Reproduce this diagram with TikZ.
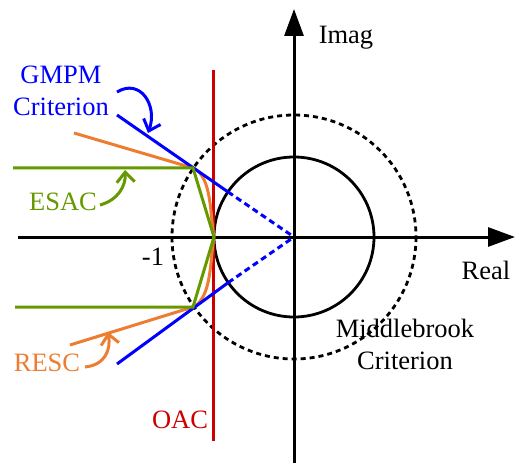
\documentclass[tikz,border=0pt]{standalone}
\usepackage{fontspec}
\setmainfont{Liberation Serif}
\usetikzlibrary{arrows.meta,calc}
\definecolor{cblue}{RGB}{0,0,255}
\definecolor{cgreen}{RGB}{102,153,0}
\definecolor{corange}{RGB}{237,125,49}
\definecolor{cred}{RGB}{204,0,0}
\tikzset{
  axis/.style={line width=3pt,-{Triangle[width=19pt,length=27pt]}},
  lbl/.style={inner sep=0pt,font=\fontsize{26.5}{32}\selectfont,align=center},
  crit/.style={line width=3pt},
  callout/.style={line width=3pt,-{Straight Barb[length=10pt,width=18pt]}},
  dashblue/.style={line width=3pt,cblue,dash pattern=on 6pt off 4pt}
}
\begin{document}
\begin{tikzpicture}[x=1pt,y=-1pt]
\useasboundingbox (0,0) rectangle (516,465);
% coordinates
\coordinate (O) at (294,237);
\coordinate (xs) at (18,237);
\coordinate (xe) at (515,237);
\coordinate (ys) at (294,463);
\coordinate (ye) at (294,9);
\coordinate (U) at (193,168);
\coordinate (L) at (193,307);
\coordinate (T) at (214,237);
% circles
\draw[line width=2.8pt] (O) circle (80);
\draw[line width=2.8pt,dash pattern=on 5pt off 4pt] (O) circle (122);
% axes
\draw[axis] (xs) -- (xe);
\draw[axis] (ys) -- (ye);
% OAC red line
\coordinate (r1) at (213,70);
\coordinate (r2) at (213,441);
\draw[crit,cred] (r1) -- (r2);
% orange RESC
\coordinate (o1) at (74,133);
\coordinate (o2) at (70,345);
\draw[crit,corange] (o1) -- (U) .. controls (212,176) and (210,215) .. (T);
\draw[crit,corange] (o2) -- (L) .. controls (212,298) and (210,259) .. (T);
% blue GMPM
\coordinate (b1) at (117,115);
\coordinate (b2) at (117,364);
\coordinate (bu) at ($(O)!80pt!(U)$);
\coordinate (bl) at ($(O)!80pt!(L)$);
\draw[crit,cblue] (b1) -- (bu);
\draw[crit,cblue] (b2) -- (bl);
\draw[dashblue] (bu) -- (O);
\draw[dashblue] (bl) -- (O);
% green ESAC
\coordinate (g1) at (13,168);
\coordinate (g2) at (15,307);
\draw[crit,cgreen,line join=miter] (g1) -- (U) -- (T) -- (L) -- (g2);
% labels
\node[lbl] (imag) at (346,38) {Imag};
\node[lbl] (real) at (486,270) {Real};
\node[lbl] (m1) at (153,257) {-1};
\node[lbl] (mb) at (405,344) {Middlebrook\\Criterion};
\node[lbl,text=cblue] (gm) at (61,91) {GMPM\\Criterion};
\node[lbl,text=cgreen] (es) at (63,202) {ESAC};
\node[lbl,text=corange] (re) at (47,363) {RESC};
\node[lbl,text=cred] (oac) at (180,420) {OAC};
% callout arrows
\coordinate (ga) at (148,133);
\coordinate (ea) at (125,170);
\coordinate (ra) at (108,332);
\draw[callout,cblue] (117,92) .. controls (140,78) and (158,105) .. (ga);
\draw[callout,cgreen] (100,205) .. controls (118,200) and (126,186) .. (ea);
\draw[callout,corange] (85,367) .. controls (105,365) and (111,350) .. (ra);
\end{tikzpicture}
\end{document}
